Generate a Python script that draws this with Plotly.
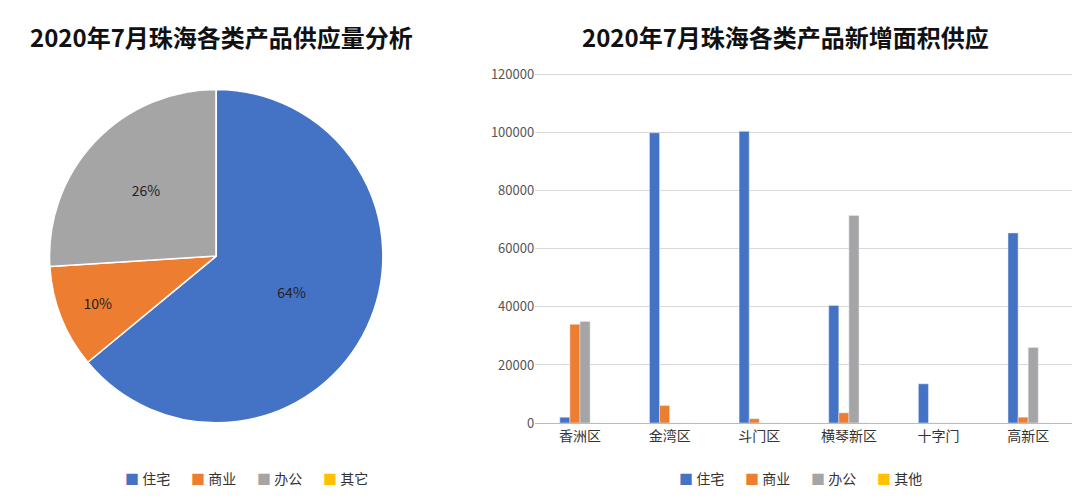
import plotly.graph_objects as go

# pie data
pie_labels = ["住宅", "商业", "办公", "其它"]
pie_values = [64, 10, 26, 0]

# bar data
districts = ["香洲区", "金湾区", "斗门区", "横琴新区", "十字门", "高新区"]
bar_series = ["住宅", "商业", "办公", "其他"]
zhuzhai = [2000, 100000, 100500, 40500, 13500, 65500]
shangye = [34000, 6000, 1500, 3500, 0, 2000]
bangong = [35000, 0, 0, 71500, 0, 26000]
qita = [0, 0, 0, 0, 0, 0]

COLORS = ["#4472C4", "#ED7D31", "#A5A5A5", "#FFC000"]
FONT = "Noto Sans CJK SC, Noto Sans, sans-serif"

fig = go.Figure()

fig.add_trace(go.Pie(
    labels=pie_labels, values=pie_values, sort=False, direction="clockwise",
    rotation=0, marker=dict(colors=COLORS, line=dict(color="white", width=1.5)),
    texttemplate=["%{percent:.0%}", "%{percent:.0%}", "%{percent:.0%}", ""],
    textposition="inside", insidetextfont=dict(color="#222", size=14),
    domain=dict(x=[0.039, 0.352], y=[0.0, 0.954]), showlegend=False,
))

for name, vals, c in zip(bar_series, [zhuzhai, shangye, bangong, qita], COLORS):
    fig.add_trace(go.Bar(x=districts, y=vals, name=name, marker_color=c,
                         showlegend=False, xaxis="x", yaxis="y"))

def legend_row(names, x0, step, y):
    for i, n in enumerate(names):
        fig.add_annotation(xref="paper", yref="paper", x=x0 + i * step, y=y,
                           text=f"<span style='color:{COLORS[i]}'>■</span> {n}",
                           showarrow=False, xanchor="left", yanchor="middle",
                           font=dict(size=14, color="#333", family=FONT))

legend_row(pie_labels, 0.108, 0.062, -0.157)
legend_row(bar_series, 0.628, 0.062, -0.157)

fig.add_annotation(xref="paper", yref="paper", x=0.2, y=1.103, xanchor="center", yanchor="middle",
                   text="<b>2020年7月珠海各类产品供应量分析</b>",
                   showarrow=False, font=dict(size=24, color="#111", family=FONT))
fig.add_annotation(xref="paper", yref="paper", x=0.73, y=1.103, xanchor="center", yanchor="middle",
                   text="<b>2020年7月珠海各类产品新增面积供应</b>",
                   showarrow=False, font=dict(size=24, color="#111", family=FONT))

fig.update_layout(
    width=1080, height=504, paper_bgcolor="white", plot_bgcolor="white",
    margin=dict(l=0, r=15, t=65, b=89),
    font=dict(family=FONT, color="#333"),
    barmode="group", bargap=0.55, bargroupgap=0.0,
    xaxis=dict(domain=[0.495, 1.0], showline=True, linecolor="#bbb",
               tickfont=dict(size=14, color="#333"), ticks=""),
    yaxis=dict(range=[0, 120600], tickvals=[0, 20000, 40000, 60000, 80000, 100000, 120000],
               gridcolor="#d9d9d9", tickfont=dict(size=13, color="#555"),
               zeroline=False, tickformat="d"),
)

fig.write_html("out.html")
